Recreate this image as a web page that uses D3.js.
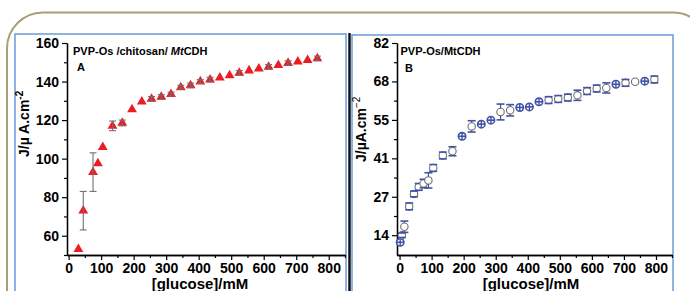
<!DOCTYPE html>
<html>
<head>
<meta charset="utf-8">
<script src="https://cdn.jsdelivr.net/npm/d3@7"></script>
<style>
  body { margin: 0; background: #fff; }
  svg { display: block; }
  text { font-family: "Liberation Sans", Arial, sans-serif; font-weight: bold; fill: #000; }
</style>
</head>
<body>
<div id="chart"></div>
<script>
// ---- panel A : PVP-Os /chitosan/ MtCDH ----
const glucoseA = [30, 45, 75, 90, 105, 135, 165, 195, 225, 255, 285, 315, 345, 375, 405, 435, 465, 495, 525, 555, 585, 615, 645, 675, 705, 735, 765];
const currentA = [53, 73, 93, 97.5, 106, 117, 118.5, 125.5, 129.5, 131, 132, 133.5, 137, 138, 140, 141, 142, 143.2, 144.5, 145.7, 146.7, 147.6, 148.5, 149.6, 150.3, 151.1, 152];
const errorA = [0, 10, 10, 0, 0, 2.5, 1.5, 0, 0, 1.2, 1.2, 1, 1, 1.2, 1, 1.2, 0, 0, 1.2, 0, 0, 1.2, 0, 1.2, 0, 0, 1.2];
const yTicksA = [60, 80, 100, 120, 140, 160];
const yMinorA = [50, 70, 90, 110, 130, 150];

// ---- panel B : PVP-Os/MtCDH ----
const glucoseB = [2, 7, 15, 30, 45, 60, 75, 90, 105, 135, 165, 195, 225, 255, 285, 315, 345, 375, 405, 435, 465, 495, 525, 555, 585, 615, 645, 675, 705, 735, 765, 795];
const currentB = [11.5, 14, 17, 24.2, 28.6, 31.1, 32.3, 33.4, 37.8, 42.2, 43.7, 49, 52.5, 53.3, 54.7, 57.6, 58.2, 59.2, 59.4, 61.2, 61.8, 62.2, 62.7, 63.5, 65, 65.9, 66.1, 67.4, 67.9, 68.3, 68.5, 69.1];
const errorB = [0.3, 0.8, 2, 1.2, 1, 1.2, 1.5, 2.7, 1.2, 1.2, 1.6, 0.3, 2, 0.3, 0.3, 2.8, 2, 0.3, 0.3, 0.3, 1.2, 1.2, 1.2, 1.8, 1.2, 1.2, 1.8, 0.3, 1.2, 0, 0.3, 1.2];
const yTicksB = [14, 27.6, 41.2, 54.8, 68.4, 82];
const yTickLabelsB = ['14', '27', '41', '55', '68', '82'];

// shared x axis
const xTicks = [0, 100, 200, 300, 400, 500, 600, 700, 800];
const xMinor = [50, 150, 250, 350, 450, 550, 650, 750, 850];

const WIDTH = 690;
const HEIGHT = 291;
const RED = '#ec1c24';
const BLUE = '#4152a6';
const FRAME_BLUE = '#6a9ad8';

const svg = d3.select('#chart').append('svg').attr('width', WIDTH).attr('height', HEIGHT);

// outer rounded frame and panel boxes
svg.append('rect')
  .attr('x', 7).attr('y', 12.5).attr('width', 702).attr('height', 400).attr('rx', 36)
  .attr('fill', 'none').attr('stroke', '#a99f78').attr('stroke-width', 2);
svg.append('rect')
  .attr('x', 15).attr('y', 34).attr('width', 331).attr('height', 300)
  .attr('fill', '#fff').attr('stroke', FRAME_BLUE).attr('stroke-width', 1.5);
svg.append('rect')
  .attr('x', 352).attr('y', 35).attr('width', 321).attr('height', 300)
  .attr('fill', '#fff').attr('stroke', FRAME_BLUE).attr('stroke-width', 1.5);
svg.append('line')
  .attr('x1', 349.5).attr('x2', 349.5).attr('y1', 33).attr('y2', HEIGHT)
  .attr('stroke', '#111').attr('stroke-width', 2.5);

function drawAxes(x, y, yTicks, yMinor, yFormat) {
  const bottom = y.range()[0];
  const left = x.range()[0];

  svg.append('g')
    .attr('transform', 'translate(0,' + bottom + ')')
    .call(d3.axisBottom(x).tickValues(xMinor).tickFormat(() => '').tickSizeInner(3).tickSizeOuter(0));
  const gx = svg.append('g')
    .attr('transform', 'translate(0,' + bottom + ')')
    .call(d3.axisBottom(x).tickValues(xTicks).tickSizeInner(5).tickSizeOuter(0).tickPadding(3));
  gx.selectAll('text').attr('font-size', 14).attr('font-family', null);

  svg.append('g')
    .attr('transform', 'translate(' + left + ',0)')
    .call(d3.axisLeft(y).tickValues(yMinor).tickFormat(() => '').tickSizeInner(3).tickSizeOuter(0));
  const gy = svg.append('g')
    .attr('transform', 'translate(' + left + ',0)')
    .call(d3.axisLeft(y).tickValues(yTicks).tickFormat(yFormat).tickSizeInner(5).tickSizeOuter(0).tickPadding(3));
  gy.selectAll('text').attr('font-size', 14).attr('font-family', null);

  svg.selectAll('.domain').attr('stroke-width', 1.3);
  svg.selectAll('.tick line').attr('stroke-width', 1.2);
}

// ---- panel A ----
const xA = d3.scaleLinear().domain([-5, 850]).range([67, 345]);
const yA = d3.scaleLinear().domain([50, 160]).range([255, 43]);
drawAxes(xA, yA, yTicksA, yMinorA, d3.format('d'));

const pointsA = glucoseA.map((g, i) => ({ x: g, y: currentA[i], e: errorA[i] }));

svg.append('g')
  .selectAll('path')
  .data(pointsA)
  .join('path')
  .attr('transform', (d) => 'translate(' + xA(d.x) + ',' + yA(d.y) + ')')
  .attr('d', d3.symbol(d3.symbolTriangle, 42))
  .attr('fill', RED);

// error bars over the markers
const errA = svg.append('g').attr('stroke', '#707070').attr('stroke-width', 1.1)
  .selectAll('g')
  .data(pointsA.filter((d) => d.e > 0))
  .join('g');
errA.append('line')
  .attr('x1', (d) => xA(d.x)).attr('x2', (d) => xA(d.x))
  .attr('y1', (d) => yA(d.y - d.e)).attr('y2', (d) => yA(d.y + d.e));
errA.append('line')
  .attr('x1', (d) => xA(d.x) - 3.5).attr('x2', (d) => xA(d.x) + 3.5)
  .attr('y1', (d) => yA(d.y + d.e)).attr('y2', (d) => yA(d.y + d.e));
errA.append('line')
  .attr('x1', (d) => xA(d.x) - 3.5).attr('x2', (d) => xA(d.x) + 3.5)
  .attr('y1', (d) => yA(d.y - d.e)).attr('y2', (d) => yA(d.y - d.e));

// ---- panel B ----
const xB = d3.scaleLinear().domain([-8, 850]).range([397, 672]);
const yB = d3.scaleLinear().domain([7, 82]).range([255, 43]);
drawAxes(xB, yB, yTicksB, yTicksB.slice(0, -1).map((t, i) => (t + yTicksB[i + 1]) / 2), (d, i) => yTickLabelsB[i]);

const pointsB = glucoseB.map((g, i) => ({ x: g, y: currentB[i], e: errorB[i] }));
const R = 3.7;

const gB = svg.append('g').selectAll('g').data(pointsB).join('g')
  .attr('transform', (d) => 'translate(' + xB(d.x) + ',' + yB(d.y) + ')');

// vertical bar behind the hollow marker
gB.filter((d) => d.e >= 0.5)
  .append('line')
  .attr('y1', (d) => yB(d.y - d.e) - yB(d.y)).attr('y2', (d) => yB(d.y + d.e) - yB(d.y))
  .attr('stroke', BLUE).attr('stroke-width', 1.2);

gB.append('circle')
  .attr('r', R)
  .attr('fill', '#fff')
  .attr('stroke', (d) => (d.e > 0 && d.e < 0.5 ? BLUE : '#707070'))
  .attr('stroke-width', (d) => (d.e > 0 && d.e < 0.5 ? 1.6 : 1.1));

// caps
[1, -1].forEach((s) => {
  gB.filter((d) => d.e >= 0.5)
    .append('line')
    .attr('x1', -4).attr('x2', 4)
    .attr('y1', (d) => yB(d.y + s * d.e) - yB(d.y)).attr('y2', (d) => yB(d.y + s * d.e) - yB(d.y))
    .attr('stroke', BLUE).attr('stroke-width', 1.6);
});

// tiny errors: cross inside the circle
const crossB = gB.filter((d) => d.e > 0 && d.e < 0.5);
crossB.append('line').attr('x1', -R).attr('x2', R).attr('stroke', BLUE).attr('stroke-width', 1.6);
crossB.append('line').attr('y1', -R).attr('y2', R).attr('stroke', BLUE).attr('stroke-width', 1.4);

// ---- texts ----
const titleA = svg.append('text').attr('x', 73).attr('y', 55).attr('font-size', 11);
titleA.append('tspan').text('PVP-Os /chitosan/ ');
titleA.append('tspan').attr('font-style', 'italic').text('Mt');
titleA.append('tspan').text('CDH');
svg.append('text').attr('x', 77).attr('y', 71).attr('font-size', 11).text('A');

svg.append('text').attr('x', 400.5).attr('y', 55).attr('font-size', 11).text('PVP-Os/MtCDH');
svg.append('text').attr('x', 405).attr('y', 72).attr('font-size', 11).text('B');

const labelA = svg.append('text')
  .attr('transform', 'translate(29,157) rotate(-90)')
  .attr('font-size', 14);
labelA.append('tspan').text('J/\u00b5 A.cm');
labelA.append('tspan').attr('dy', -6).attr('font-size', 10).text('-2');

const labelB = svg.append('text')
  .attr('transform', 'translate(366,162) rotate(-90)')
  .attr('font-size', 14);
labelB.append('tspan').text('J/\u00b5A.cm');
labelB.append('tspan').attr('dy', -6).attr('font-size', 10).attr('font-weight', 'normal').text('\u22122');

svg.append('text').attr('x', 200).attr('y', 289).attr('text-anchor', 'middle').attr('font-size', 15).text('[glucose]/mM');
svg.append('text').attr('x', 531).attr('y', 289).attr('text-anchor', 'middle').attr('font-size', 15).text('[glucose]/mM');
</script>
</body>
</html>
